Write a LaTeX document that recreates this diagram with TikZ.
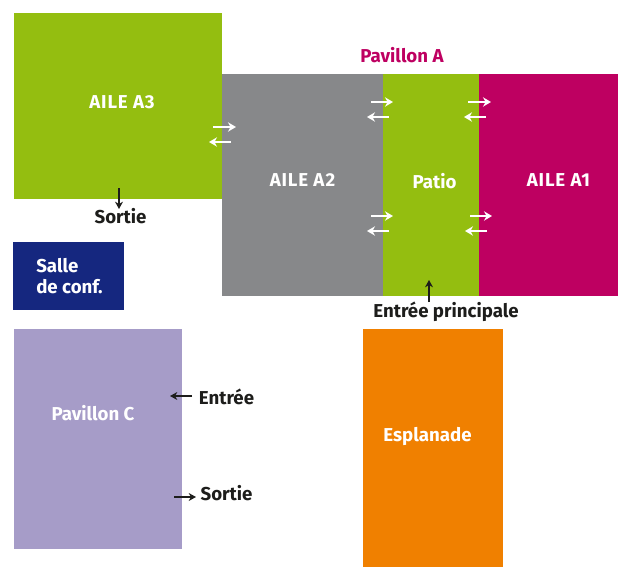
\documentclass[tikz,border=0pt]{standalone}
\usepackage{fontspec}
\setmainfont{Fira Sans}
\usetikzlibrary{arrows.meta}
\definecolor{cgreen}{HTML}{94BE10}
\definecolor{cgrey}{HTML}{87888A}
\definecolor{cmag}{HTML}{BE0061}
\definecolor{cblue}{HTML}{15277F}
\definecolor{clilac}{HTML}{A69CC8}
\definecolor{corange}{HTML}{F08000}
\definecolor{cink}{HTML}{1D1D1B}
\tikzset{
  x=0.75pt,y=-0.75pt,
  area/.style={inner sep=0,outer sep=0,anchor=north west},
  lab/.style={font=\fontsize{14}{15.6}\selectfont\bfseries,inner sep=0,text=white,align=left},
  caplab/.style={lab,font=\fontsize{14}{16}\selectfont\bfseries\addfontfeature{LetterSpace=4.5}},
  blab/.style={lab,text=cink},
  warrow/.style={draw=white,line width=1.9pt,-{Stealth[length=6pt,width=7pt]}},
  karrow/.style={draw=cink,line width=1.5pt,-{Stealth[length=5.5pt,width=6pt]}},
}
\newcommand{\zone}[6]{\node[area,fill=#6,minimum width=#4*0.75pt,minimum height=#5*0.75pt] (#1) at (#2,#3) {};}
\newcommand{\arr}[6]{\coordinate (#1a) at (#3,#4);\coordinate (#1b) at (#5,#6);\draw[#2] (#1a) -- (#1b);}
\begin{document}
\begin{tikzpicture}
\useasboundingbox (0,0) rectangle (618,567);
\zone{a3}{14}{13}{208}{186}{cgreen}
\zone{a2}{222}{74}{161}{222}{cgrey}
\zone{patio}{383}{74}{96}{222}{cgreen}
\zone{a1}{479}{74}{139}{222}{cmag}
\zone{salle}{13}{242}{111}{68}{cblue}
\zone{pavc}{14}{329}{168}{220}{clilac}
\zone{espl}{363}{329}{140}{238}{corange}
\node[caplab] (la3) at (122,102) {AILE A3};
\node[caplab] (la2) at (302.5,180) {AILE A2};
\node[lab] (lpatio) at (434.5,181.5) {Patio};
\node[caplab] (la1) at (558.5,180) {AILE A1};
\node[lab,text=cmag] (lpava) at (402,55) {Pavillon A};
\node[lab,anchor=west] (lsalle) at (36,276) {Salle\\de conf.};
\node[lab] (lpavc) at (93,413.5) {Pavillon C};
\node[lab] (lespl) at (427.5,436.5) {Esplanade};
\node[blab] (ls1) at (120.5,216) {Sortie};
\node[blab] (lep) at (446,311.5) {Entrée principale};
\node[blab] (le) at (226.5,397) {Entrée};
\node[blab] (ls2) at (226.5,493) {Sortie};
\arr{w1}{warrow}{213}{127}{236}{127}
\arr{w2}{warrow}{231}{142}{209}{142}
\arr{w3}{warrow}{371}{102}{393}{102}
\arr{w4}{warrow}{389}{117}{367}{117}
\arr{w5}{warrow}{468}{102}{491}{102}
\arr{w6}{warrow}{486}{117}{464}{117}
\arr{w7}{warrow}{371}{216}{393}{216}
\arr{w8}{warrow}{389}{231}{367}{231}
\arr{w9}{warrow}{470}{216}{492}{216}
\arr{w10}{warrow}{487}{231}{465}{231}
\arr{k1}{karrow}{119}{188}{119}{209}
\arr{k2}{karrow}{429}{302}{429}{280}
\arr{k3}{karrow}{192}{396}{170}{396}
\arr{k4}{karrow}{174}{497}{196}{497}
\end{tikzpicture}
\end{document}
